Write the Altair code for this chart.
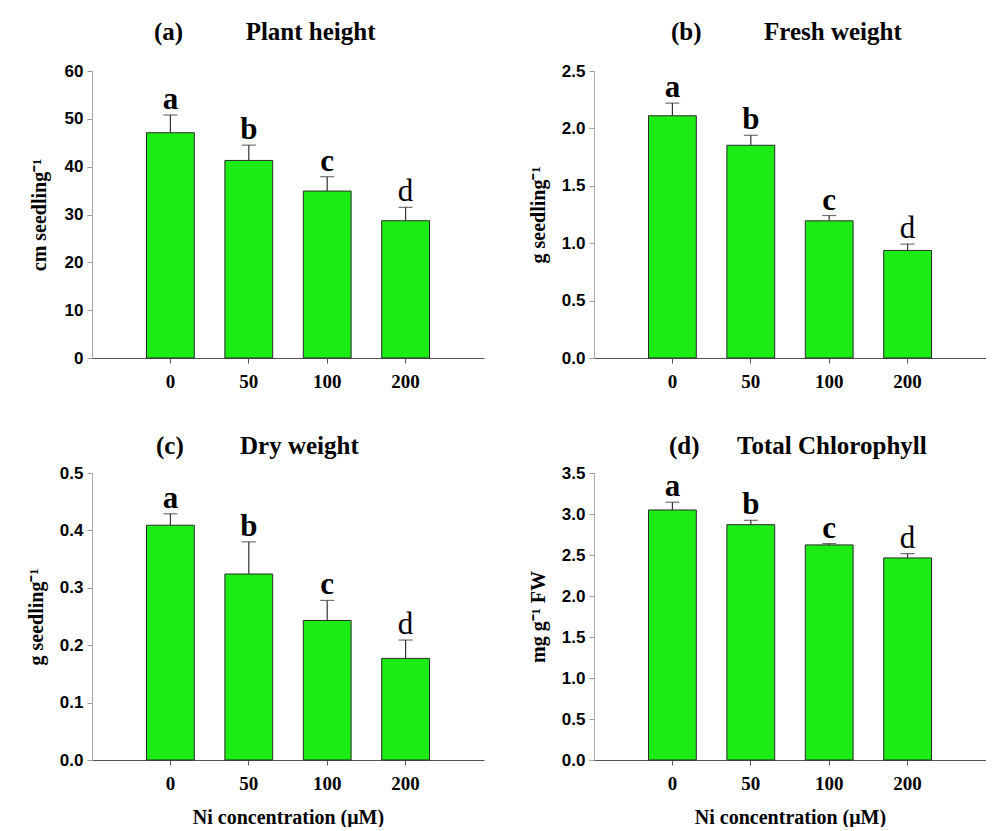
import altair as alt
import pandas as pd

conc = ["0", "50", "100", "200"]
letters = ["a", "b", "c", "d"]
letter_bold = [True, True, True, False]

height_mean = [47.1, 41.3, 34.9, 28.7]
height_top = [50.8, 44.5, 37.9, 31.5]
fresh_mean = [2.11, 1.853, 1.195, 0.937]
fresh_top = [2.22, 1.94, 1.241, 0.992]
dry_mean = [0.409, 0.324, 0.243, 0.177]
dry_top = [0.429, 0.380, 0.278, 0.209]
chl_mean = [3.049, 2.870, 2.623, 2.464]
chl_top = [3.143, 2.923, 2.639, 2.517]

ticks_a = [0, 10, 20, 30, 40, 50, 60]
ticks_b = [0.0, 0.5, 1.0, 1.5, 2.0, 2.5]
ticks_c = [0.0, 0.1, 0.2, 0.3, 0.4, 0.5]
ticks_d = [0.0, 0.5, 1.0, 1.5, 2.0, 2.5, 3.0, 3.5]

SERIF = "Liberation Serif"
SANS = "Liberation Sans"
GREEN = "#1aec14"
NB = "\u00a0"


def panel(label, name, gap, mean, top, ticks, fmt, ytitle, xtitle, dx, tpad, toff):
    df = pd.DataFrame({"conc": conc, "mean": mean, "top": top,
                       "letter": letters, "bold": letter_bold})
    base = alt.Chart(df)
    xaxis = alt.Axis(labelFont=SERIF, labelFontWeight="bold", labelFontSize=19,
                     labelColor="black", labelAngle=0, labelPadding=9,
                     tickSize=5, tickColor="#555", domainColor="#555",
                     titleFont=SERIF, titleFontWeight="bold", titleFontSize=20,
                     titleColor="black", titlePadding=14)
    x = alt.X("conc:N", sort=conc,
              scale=alt.Scale(paddingInner=0.39, paddingOuter=0.695),
              axis=xaxis, title=xtitle)
    y = alt.Y("mean:Q",
              scale=alt.Scale(domain=[ticks[0], ticks[-1]], nice=False),
              axis=alt.Axis(values=ticks, format=fmt, grid=False,
                            labelFont=SANS, labelFontWeight="bold",
                            labelFontSize=17, labelColor="black",
                            labelPadding=4, tickSize=5, tickColor="#999",
                            domainColor="#aaa",
                            titleFont=SERIF, titleFontWeight="bold",
                            titleFontSize=20, titleColor="black",
                            titlePadding=tpad),
              title=ytitle)
    xs = alt.X("conc:N", sort=conc)
    bars = base.mark_bar(color=GREEN, stroke="#2a2a2a", strokeWidth=1).encode(x=x, y=y)
    rule = base.mark_rule(color="#333", strokeWidth=1.2).encode(x=xs, y="mean:Q", y2="top:Q")
    cap = base.mark_tick(orient="horizontal", size=14, thickness=1.2, color="#333").encode(
        x=xs, y="top:Q")
    tb = base.transform_filter("datum.bold").mark_text(
        font=SERIF, fontWeight="bold", fontSize=31, baseline="alphabetic", dy=-6,
        color="black").encode(x=xs, y="top:Q", text="letter:N")
    tr = base.transform_filter("!datum.bold").mark_text(
        font=SERIF, fontWeight="normal", fontSize=31, baseline="alphabetic", dy=-6,
        color="black").encode(x=xs, y="top:Q", text="letter:N")
    title = alt.TitleParams(text=label + NB * gap + name, font=SERIF, fontSize=25,
                            fontWeight="bold", color="black", anchor="start",
                            frame="group", dx=dx, offset=toff)
    return alt.layer(bars, rule, cap, tb, tr).properties(width=392, height=287, title=title)


pa = panel("(a)", "Plant height", 10, height_mean, height_top, ticks_a, "d",
           "cm seedling\u207b\u00b9", "", 62, 15, 17)
pb = panel("(b)", "Fresh weight", 10, fresh_mean, fresh_top, ticks_b, ".1f",
           "g seedling\u207b\u00b9", "", 77, 13, 17)
pc = panel("(c)", "Dry weight", 9, dry_mean, dry_top, ticks_c, ".1f",
           "g seedling\u207b\u00b9", "Ni concentration (\u03bcM)", 64, 13, 5)
pd_ = panel("(d)", "Total Chlorophyll", 6, chl_mean, chl_top, ticks_d, ".1f",
            "mg g\u207b\u00b9 FW", "Ni concentration (\u03bcM)", 75, 13, 5)

chart = alt.concat(pa, pb, pc, pd_, columns=2,
                   spacing={"row": 43, "column": 44}).configure_view(
    stroke=None).properties(padding={"left": 18, "top": 12, "right": 0, "bottom": 0})

chart.save("out.html", embed_options={"renderer": "svg", "actions": False})
